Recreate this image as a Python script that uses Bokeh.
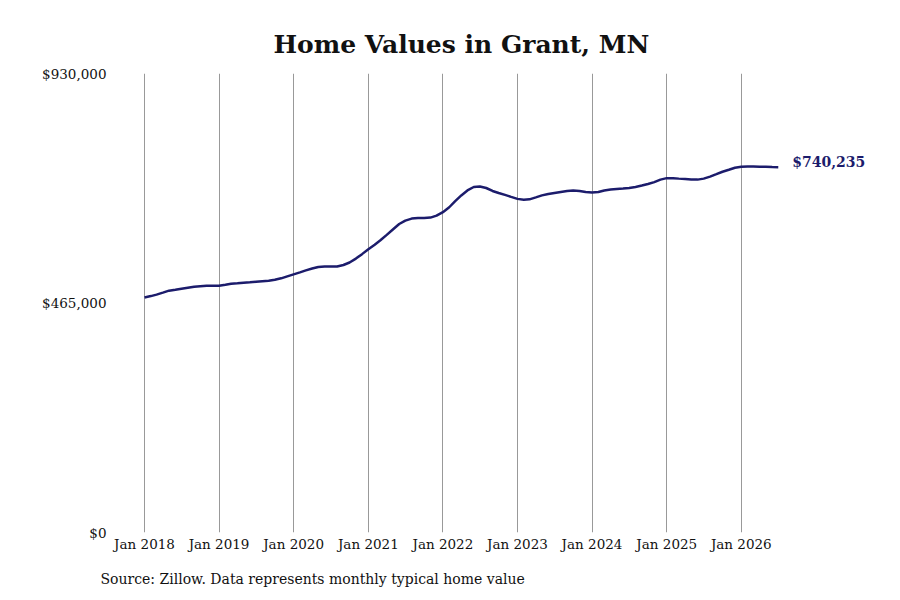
import pandas as pd
from bokeh.plotting import figure
from bokeh.models import FixedTicker, Range1d, Title, ColumnDataSource
from bokeh.core.properties import value
from bokeh.embed import file_html
from bokeh.resources import INLINE

# ---- data ----
start_month = "2018-01-01"
home_values = [
    476000, 479000, 482000, 486000, 490000, 492000, 494000, 496000, 498000, 499000, 500000, 500000,
    500000, 502000, 504000, 505000, 506000, 507000, 508000, 509000, 510000, 512000, 515000, 519000,
    523000, 527000, 531000, 535000, 538000, 539000, 539000, 539000, 542000, 547000, 555000, 564000,
    574000, 583000, 592000, 603000, 614000, 625000, 632000, 636000, 637000, 637000, 638000, 642000,
    649000, 659000, 671000, 683000, 693000, 700000, 701000, 698000, 692000, 688000, 684000, 680000,
    676000, 674000, 675000, 679000, 683000, 686000, 688000, 690000, 692000, 693000, 692000, 690000,
    689000, 690000, 693000, 695000, 696000, 697000, 698000, 700000, 703000, 706000, 710000, 715000,
    718000, 718000, 717000, 716000, 715000, 715000, 717000, 721000, 726000, 731000, 735000, 739000,
    741000, 741500, 741500, 741000, 741000, 740500, 740235,
]
tick_years = ["2018", "2019", "2020", "2021", "2022", "2023", "2024", "2025", "2026"]
y_ticks = [0, 465000, 930000]
y_tick_labels = ["$0", "$465,000", "$930,000"]
title_text = "Home Values in Grant, MN"
source_text = "Source: Zillow. Data represents monthly typical home value"
end_label = "$740,235"

dates = pd.date_range(start_month, periods=len(home_values), freq="MS")
src = ColumnDataSource(dict(x=dates, y=home_values))

FONT = "DejaVu Serif"
NAVY = "#1c1c6c"

x_start = pd.Timestamp("2018-01-01") - pd.Timedelta(days=127.3)
x_end = pd.Timestamp("2018-01-01") + pd.Timedelta(days=3603.5)

p = figure(width=884, height=600, output_backend="svg", toolbar_location=None,
           x_axis_type="datetime",
           x_range=Range1d(x_start, x_end), y_range=Range1d(0, 930000),
           min_border_left=118, min_border_right=4, min_border_top=73, min_border_bottom=65)
p.outline_line_color = None
p.background_fill_color = "white"
p.border_fill_color = "white"

tick_dates = [pd.Timestamp(f"{y}-01-01") for y in tick_years]
tick_ms = [t.value / 1e6 for t in tick_dates]

p.xaxis.ticker = FixedTicker(ticks=tick_ms)
p.xaxis.major_label_overrides = {ms: f"Jan {y}" for ms, y in zip(tick_ms, tick_years)}
p.xaxis.axis_line_color = None
p.xaxis.major_tick_line_color = None
p.xaxis.minor_tick_line_color = None
p.xaxis.major_tick_out = 0
p.xaxis.major_tick_in = 0
p.xaxis.minor_tick_out = 0
p.xaxis.major_label_text_font = FONT
p.xaxis.major_label_text_font_size = "13.5px"
p.xaxis.major_label_text_color = "#111111"
p.xaxis.major_label_standoff = 3

p.yaxis.ticker = FixedTicker(ticks=y_ticks)
p.yaxis.major_label_overrides = {t: l for t, l in zip(y_ticks, y_tick_labels)}
p.yaxis.axis_line_color = None
p.yaxis.major_tick_line_color = None
p.yaxis.minor_tick_line_color = None
p.yaxis.major_tick_out = 0
p.yaxis.major_tick_in = 0
p.yaxis.minor_tick_out = 0
p.yaxis.major_label_text_font = FONT
p.yaxis.major_label_text_font_size = "13.5px"
p.yaxis.major_label_text_color = "#111111"
p.yaxis.major_label_standoff = 12

p.xgrid.grid_line_color = "#999999"
p.xgrid.grid_line_width = 1
p.ygrid.grid_line_color = None

p.line("x", "y", source=src, line_color=NAVY, line_width=2.5)

p.text(x=[dates[-1]], y=[home_values[-1]], text=[end_label],
       text_font=value(FONT), text_font_style="bold", text_font_size="14px",
       text_color=NAVY, text_baseline="middle", text_align="left",
       x_offset=14, y_offset=-5)

t = Title(text=title_text, align="left", offset=155, text_font=FONT,
          text_font_size="25px", text_font_style="bold", text_color="#111111", standoff=29)
p.add_layout(t, "above")

s = Title(text=source_text, align="left", offset=-18, text_font=FONT,
          text_font_size="14px", text_font_style="normal", text_color="#111111", standoff=28)
p.add_layout(s, "below")

open("out.html", "w").write(file_html(p, INLINE))
